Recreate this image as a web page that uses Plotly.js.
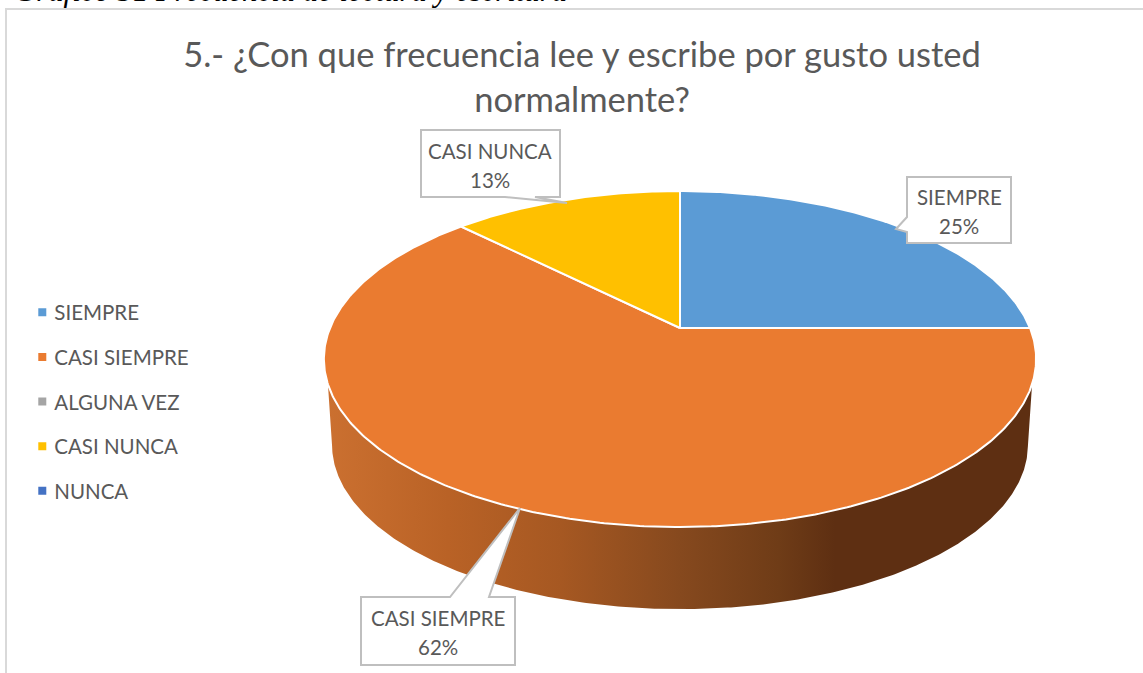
<!DOCTYPE html>
<html><head><meta charset="utf-8">
<script src="https://cdn.plot.ly/plotly-3.0.1.min.js"></script>
<style>html,body{margin:0;padding:0;background:#fff;overflow:hidden}</style></head>
<body><div id="chart" style="width:1143px;height:673px"></div>
<script>
const categories = ['SIEMPRE','CASI SIEMPRE','ALGUNA VEZ','CASI NUNCA','NUNCA'];
const percents = [25, 62.5, 0, 12.5, 0];
const percentLabels = ['25%','62%','','13%',''];
const colors = ['#5b9bd5','#ea7b30','#a5a5a5','#ffc000','#4472c4'];
const titleText = '5.- ¿Con que frecuencia lee y escribe por gusto usted<br>normalmente?';
const captionText = 'Gráfico 31 Frecuencia de lectura y escritura';
const sideScale = [[0,'#cb7030'],[0.17,'#b96226'],[0.33,'#a65822'],[0.5,'#86491e'],[0.64,'#6f3c17'],[0.72,'#5e2f12'],[1,'#5e2f12']];

// Perspective projection of the pie disc onto the page
const apex = {x:680, y:328}, k = 0.1845, ax = 350, by = 162.3;
const rimCentreY = 359, lowerScale = 0.977, lowerCentreY = 445;
function project(frac){
  const a = 2*Math.PI*frac, u = Math.sin(a), v = Math.cos(a), d = 1 + k*v;
  return {x: apex.x + ax*u/d, y: apex.y - by*v/d};
}
function lower(p){
  return {x: apex.x + lowerScale*(p.x-apex.x), y: lowerCentreY + lowerScale*(p.y-rimCentreY)};
}
const traces = [];

// Side wall of the disc
const rim = [];
for(let i=0;i<=720;i++){ rim.push(project(i/720)); }
const upperArc = rim.filter(p=>p.y>=384).sort((a,b)=>a.x-b.x);
const lowerArc = rim.filter(p=>p.y>=rimCentreY).map(lower).sort((a,b)=>b.x-a.x);
const wall = upperArc.concat(lowerArc);
traces.push({type:'scatter',mode:'lines',x:wall.map(p=>p.x),y:wall.map(p=>p.y),fill:'toself',
  line:{width:0,color:'rgba(0,0,0,0)'},fillgradient:{type:'horizontal',colorscale:sideScale},
  showlegend:false,hoverinfo:'skip'});

// Slices, clockwise from the top
let cum = 0;
percents.forEach((val,i)=>{
  if(val>0){
    const xs=[apex.x], ys=[apex.y], n=Math.max(2,Math.round(val*6));
    for(let j=0;j<=n;j++){
      const p = project((cum + val*j/n)/100);
      xs.push(p.x); ys.push(p.y);
    }
    xs.push(apex.x); ys.push(apex.y);
    traces.push({type:'scatter',mode:'lines',x:xs,y:ys,fill:'toself',fillcolor:colors[i],
      line:{color:'#ffffff',width:2},name:categories[i],showlegend:false,
      text:categories[i]+' '+percentLabels[i],hoverinfo:'text'});
  }
  cum += val;
});

// Legend entries
categories.forEach((c,i)=>{
  traces.push({type:'scatter',mode:'markers',x:[null],y:[null],name:c,legendgroup:c,
    marker:{symbol:'square',size:8,color:colors[i]},showlegend:true});
});

function callout(pts){
  return {type:'path',xref:'x',yref:'y',layer:'above',
    path:'M'+pts.map(p=>p.join(',')).join('L')+'Z',
    fillcolor:'#ffffff',line:{color:'#bfbfbf',width:2}};
}
const gray = '#595959';
const lbl = (x,y,t)=>({xref:'x',yref:'y',x:x,y:y,text:t,showarrow:false,xanchor:'center',yanchor:'middle',
  font:{family:'Lato, sans-serif',size:20.5,color:gray}});

const layout = {
  width:1143,height:673,margin:{l:0,r:0,t:0,b:0},paper_bgcolor:'#fff',plot_bgcolor:'#fff',
  xaxis:{range:[0,1143],visible:false,fixedrange:true},
  yaxis:{range:[673,0],visible:false,fixedrange:true},
  title:{text:titleText,x:582/1143,xanchor:'center',xref:'paper',y:0.9,yref:'container',yanchor:'top',
    font:{family:'Lato, sans-serif',size:34.5,color:gray}},
  legend:{x:0.0195,xanchor:'left',y:0.5655,yanchor:'top',tracegroupgap:15,itemclick:false,itemdoubleclick:false,
    bgcolor:'rgba(0,0,0,0)',font:{family:'Lato, sans-serif',size:20.5,color:gray}},
  shapes:[
    {type:'rect',xref:'x',yref:'y',x0:6,y0:9,x1:1160,y1:700,line:{color:'#d9d9d9',width:2},fillcolor:'rgba(0,0,0,0)',layer:'below'},
    callout([[907,177],[1011,177],[1011,243],[907,243],[907,232],[896,229],[907,217]]),
    callout([[421,130],[560,130],[560,197],[535,197],[567,203],[505,197],[421,197]]),
    callout([[361,597],[450,597],[520,508],[489,597],[515,597],[515,665],[361,665]])
  ],
  annotations:[
    {xref:'x',yref:'y',x:12,y:0,yshift:9,xanchor:'left',yanchor:'middle',showarrow:false,text:'<i>'+captionText+'</i>',
      font:{family:'Liberation Serif, serif',size:30.8,color:'#000'}},
    lbl(959,197,categories[0]),lbl(959,226,percentLabels[0]),
    lbl(490,151,categories[3]),lbl(490,180,percentLabels[3]),
    lbl(438,618,categories[1]),lbl(438,647,percentLabels[1])
  ],
  hovermode:'closest'
};
Plotly.newPlot('chart',traces,layout,{displayModeBar:false}).then(gd=>{
  // bring legend text closer to its swatch, as in the reference
  gd.querySelectorAll('.legendtext').forEach(t=>{ t.setAttribute('x', +t.getAttribute('x') - 8); });
});
</script></body></html>
